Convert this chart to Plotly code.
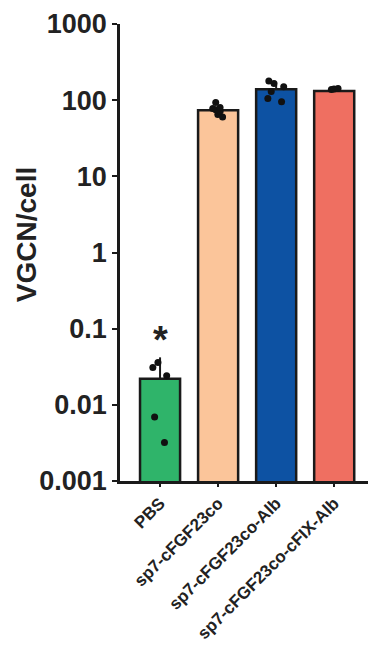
import plotly.graph_objects as go

groups = ['PBS', 'sp7-cFGF23co', 'sp7-cFGF23co-Alb', 'sp7-cFGF23co-cFIX-Alb']
bar_means = [0.022, 74, 139, 132]
bar_sd_up = [0.020, 8, 20, 5]
bar_colors = ['#2fb46a', '#fbc59a', '#0d52a3', '#ef6f61']

pts_group = (['PBS'] * 5 + ['sp7-cFGF23co'] * 7
             + ['sp7-cFGF23co-Alb'] * 6 + ['sp7-cFGF23co-cFIX-Alb'] * 3)
pts_value = [0.0069, 0.0032, 0.036, 0.031, 0.024,
             93, 78, 72, 65, 60, 75, 80,
             178, 165, 150, 130, 105, 95,
             142, 138, 140]

ytick_vals = [0.001, 0.01, 0.1, 1, 10, 100, 1000]
ytick_text = ['0.001', '0.01', '0.1', '1', '10', '100', '1000']

font = 'Liberation Sans, Arial, sans-serif'

fig = go.Figure()
fig.add_trace(go.Bar(
    x=groups, y=bar_means, width=0.69,
    marker=dict(color=bar_colors, line=dict(color='#1a1a1a', width=2.5)),
    error_y=dict(type='data', symmetric=False, array=bar_sd_up,
                 arrayminus=[0] * 4, color='#1a1a1a', thickness=2, width=0),
    showlegend=False))
fig.add_trace(go.Box(
    x=pts_group, y=pts_value, boxpoints='all', jitter=0.6, pointpos=0,
    fillcolor='rgba(0,0,0,0)', line=dict(width=0, color='rgba(0,0,0,0)'),
    marker=dict(color='#111111', size=7), showlegend=False, hoverinfo='y'))

fig.add_annotation(x='PBS', y=-1.15, text='<b>*</b>', showarrow=False,
                   font=dict(family=font, size=38, color='#222'), yanchor='middle')
fig.add_annotation(xref='paper', yref='paper', x=-0.367, y=0.538,
                   xanchor='center', yanchor='middle',
                   text='<b>VGCN/cell</b>', textangle=-90, showarrow=False,
                   font=dict(family=font, size=28, color='#222'))

fig.update_yaxes(type='log', range=[-3, 3], tickvals=ytick_vals, ticktext=ytick_text,
                 showline=True, linecolor='#1a1a1a', linewidth=2.5,
                 ticks='outside', ticklen=5, tickwidth=2, tickcolor='#1a1a1a',
                 showgrid=False, zeroline=False, automargin=False,
                 tickfont=dict(family=font, size=27, color='#222', weight='bold'))
fig.update_xaxes(range=[-0.69, 3.72], showline=True, linecolor='#1a1a1a', linewidth=2.5,
                 ticks='outside', ticklen=3, tickwidth=2, tickcolor='#1a1a1a',
                 tickangle=-45, showgrid=False, automargin=False,
                 tickfont=dict(family=font, size=17, color='#222', weight='bold'))
# page body has an 8px default margin, so the figure is 8px smaller and shifted
fig.update_layout(width=368, height=644, template='plotly_white',
                  plot_bgcolor='white', paper_bgcolor='white',
                  margin=dict(l=112, r=0, t=16, b=171), boxmode='overlay')
fig.write_html('out.html')
